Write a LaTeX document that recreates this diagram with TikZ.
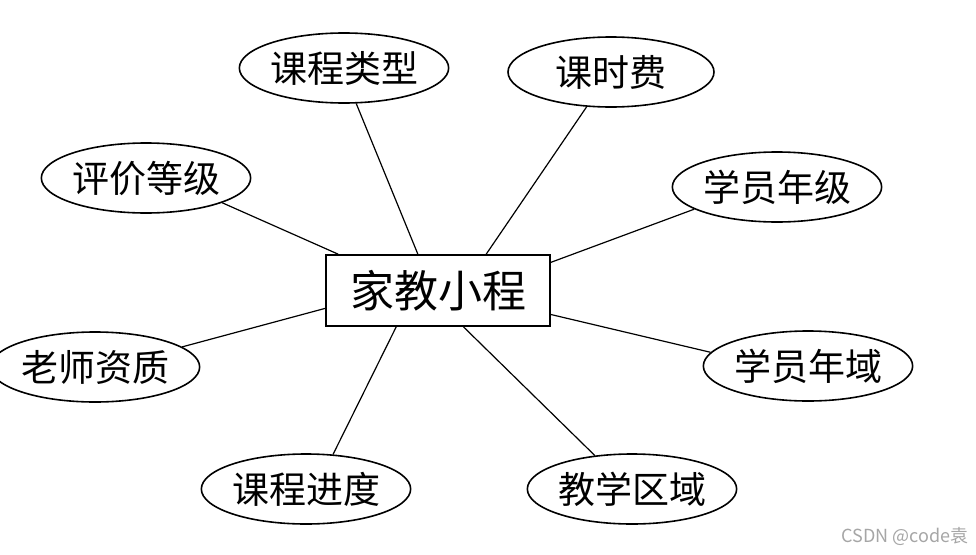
\documentclass[tikz,border=0pt]{standalone}
\usepackage{fontspec}
\setmainfont{Noto Sans CJK SC}
\newfontfamily\cjk{Noto Sans CJK SC}
\usetikzlibrary{shapes.geometric}
\begin{document}
\begin{tikzpicture}[x=1pt,y=-1pt,
  attr/.style={ellipse,draw,line width=1.6pt,minimum width=206pt,minimum height=70pt,inner sep=0pt,font=\cjk\fontsize{37}{42}\selectfont},
  mainbox/.style={rectangle,draw,line width=1.6pt,minimum width=224pt,minimum height=71pt,inner sep=0pt,font=\cjk\fontsize{44}{50}\selectfont},
  link/.style={line width=1.2pt}]
\useasboundingbox (0,0) rectangle (976,554);
\fill[white] (0,0) rectangle (976,554);
\node[mainbox] (m) at (438,290.5) {家教小程};
\node[attr] (ct) at (344,68) {课程类型};
\node[attr] (kf) at (611,72) {课时费};
\node[attr] (pj) at (146,178) {评价等级};
\node[attr] (xn) at (777,187) {学员年级};
\node[attr] (ls) at (95,367) {老师资质};
\node[attr] (xy) at (808,366) {学员年域};
\node[attr] (jd) at (306,489) {课程进度};
\node[attr] (qy) at (632,489) {教学区域};
\draw[link] (ct.-71.6) -- (m.119.4);
\draw[link] (kf.-125.4) -- (m.37.1);
\draw[link] (pj.-18.2) -- (m.160.1);
\draw[link] (xn.195.7) -- (m.14.5);
\draw[link] (ls.13) -- (m.189.9);
\draw[link] (xy.172.7) -- (m.-12.3);
\draw[link] (jd.52.7) -- (m.221.6);
\draw[link] (qy.138.4) -- (m.-55.9);
\node[text=black!35,font=\cjk\fontsize{18}{20}\selectfont] (wm) at (905,536) {CSDN @code袁};
\end{tikzpicture}
\end{document}
